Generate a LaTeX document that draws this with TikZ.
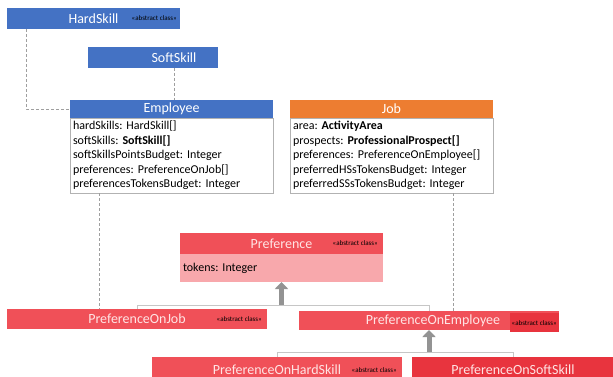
\documentclass[tikz,border=0pt]{standalone}
\usepackage{fontspec}
\setmainfont{Carlito}
\usetikzlibrary{arrows.meta}
\frenchspacing
\definecolor{ublue}{RGB}{68,114,196}
\definecolor{uorange}{RGB}{237,125,49}
\definecolor{ured}{RGB}{240,80,88}
\definecolor{uredd}{RGB}{232,52,62}
\definecolor{upink}{RGB}{248,168,172}
\definecolor{utitle}{RGB}{255,228,228}
\tikzset{
  box/.style={anchor=north west, inner sep=0pt, outer sep=0pt},
  ttl/.style={font=\fontsize{14}{16}\selectfont, text=white, inner sep=0pt},
  rttl/.style={font=\fontsize{14}{16}\selectfont, text=utitle, inner sep=0pt},
  stereo/.style={font=\fontsize{7}{8}\selectfont, inner sep=0pt},
  attrs/.style={box, draw=gray!60, fill=white, text width=197pt, align=left,
    inner xsep=3pt, inner ysep=1pt, font=\fontsize{12}{14.5}\selectfont},
  dep/.style={draw=gray!75, densely dashed, line width=0.8pt},
  gen/.style={draw=gray!45, line width=0.8pt},
  genarrow/.style={draw=gray!85, line width=5pt, -{Triangle[width=13pt,length=7pt]}},
}
\begin{document}
\begin{tikzpicture}[x=1pt,y=-1pt]
\useasboundingbox (0,0) rectangle (613,377);

% HardSkill
\node[box, fill=ublue, minimum width=173pt, minimum height=21pt] (hardskill) at (7,8) {};
\node[ttl] (hardskillt) at (hardskill.center) {HardSkill};
\node[stereo, anchor=east] (hardskills) at ([xshift=-3pt]hardskill.east) {«abstract class»};

% SoftSkill
\node[box, fill=ublue, minimum width=130pt, minimum height=21pt] (softskill) at (88,47) {};
\node[ttl] (softskillt) at ([xshift=21pt]softskill.center) {SoftSkill};

% Employee
\node[box, fill=ublue, minimum width=203pt, minimum height=18pt] (emph) at (70,100) {};
\node[ttl] (empht) at (emph.center) {Employee};
\node[attrs, minimum height=75pt] (empb) at (70,118) {%
hardSkills: HardSkill[]\\
softSkills: \textbf{SoftSkill[]}\\
softSkillsPointsBudget: Integer\\
preferences: PreferenceOnJob[]\\
preferencesTokensBudget: Integer};

% Job
\node[box, fill=uorange, minimum width=203pt, minimum height=18pt] (jobh) at (290,100) {};
\node[ttl] (jobht) at (jobh.center) {Job};
\node[attrs, minimum height=75pt] (jobb) at (290,118) {%
area: \textbf{ActivityArea}\\
prospects: \textbf{ProfessionalProspect[]}\\
preferences: PreferenceOnEmployee[]\\
preferredHSsTokensBudget: Integer\\
preferredSSsTokensBudget: Integer};

% Preference
\node[box, fill=ured, minimum width=203pt, minimum height=21pt] (prefh) at (180,233) {};
\node[rttl] (prefht) at (prefh.center) {Preference};
\node[stereo, anchor=east] (prefhs) at ([xshift=-5pt]prefh.east) {«abstract class»};
\node[box, fill=upink, minimum width=203pt, minimum height=28pt, text width=197pt,
  inner xsep=3pt, align=left, font=\fontsize{12}{14}\selectfont] (prefb) at (180,254) {tokens: Integer};

% PreferenceOnJob
\node[box, fill=ured, minimum width=260pt, minimum height=20pt] (poj) at (7,309) {};
\node[rttl] (pojt) at (poj.center) {PreferenceOnJob};
\node[stereo, anchor=east] (pojs) at ([xshift=-5pt]poj.east) {«abstract class»};

% PreferenceOnEmployee
\node[box, fill=ured, minimum width=260pt, minimum height=19pt] (poe) at (299,311) {};
\node[rttl] (poet) at ([xshift=4pt]poe.center) {PreferenceOnEmployee};
\node[stereo, anchor=north east, fill=uredd, minimum height=19pt, inner xsep=2pt] (poes)
  at ([yshift=-2pt]poe.north east) {«abstract class»};

% PreferenceOnHardSkill
\node[box, fill=ured, minimum width=250pt, minimum height=24pt] (poh) at (152,357) {};
\node[rttl] (poht) at ([yshift=-1pt]poh.center) {PreferenceOnHardSkill};
\node[stereo, anchor=east] (pohs) at ([xshift=-5pt,yshift=-1pt]poh.east) {«abstract class»};

% PreferenceOnSoftSkill
\node[box, fill=uredd, minimum width=202pt, minimum height=24pt] (pos) at (412,357) {};
\node[rttl] (post) at ([yshift=-1pt]pos.center) {PreferenceOnSoftSkill};

% dependencies
\draw[dep] ([xshift=19pt]hardskill.south west) |- (emph.west);
\draw[dep] ([xshift=21pt]softskill.south) -- ([xshift=21pt]softskill.south |- emph.north);
\coordinate (e1) at (99,0);
\draw[dep] (e1 |- empb.south) -- (e1 |- poj.north);
\coordinate (j1) at (453,0);
\draw[dep] (j1 |- jobb.south) -- (j1 |- poe.north);

% generalizations
\draw[gen] (poj.north) -- ++(0,-4) coordinate (k1) -| (poe.north);
\draw[genarrow] (prefb.south |- k1) -- (prefb.south);
\draw[gen] (poh.north) -- ++(0,-5) coordinate (k2) -| (pos.north);
\draw[genarrow] (poe.south |- k2) -- (poe.south);
\end{tikzpicture}
\end{document}
